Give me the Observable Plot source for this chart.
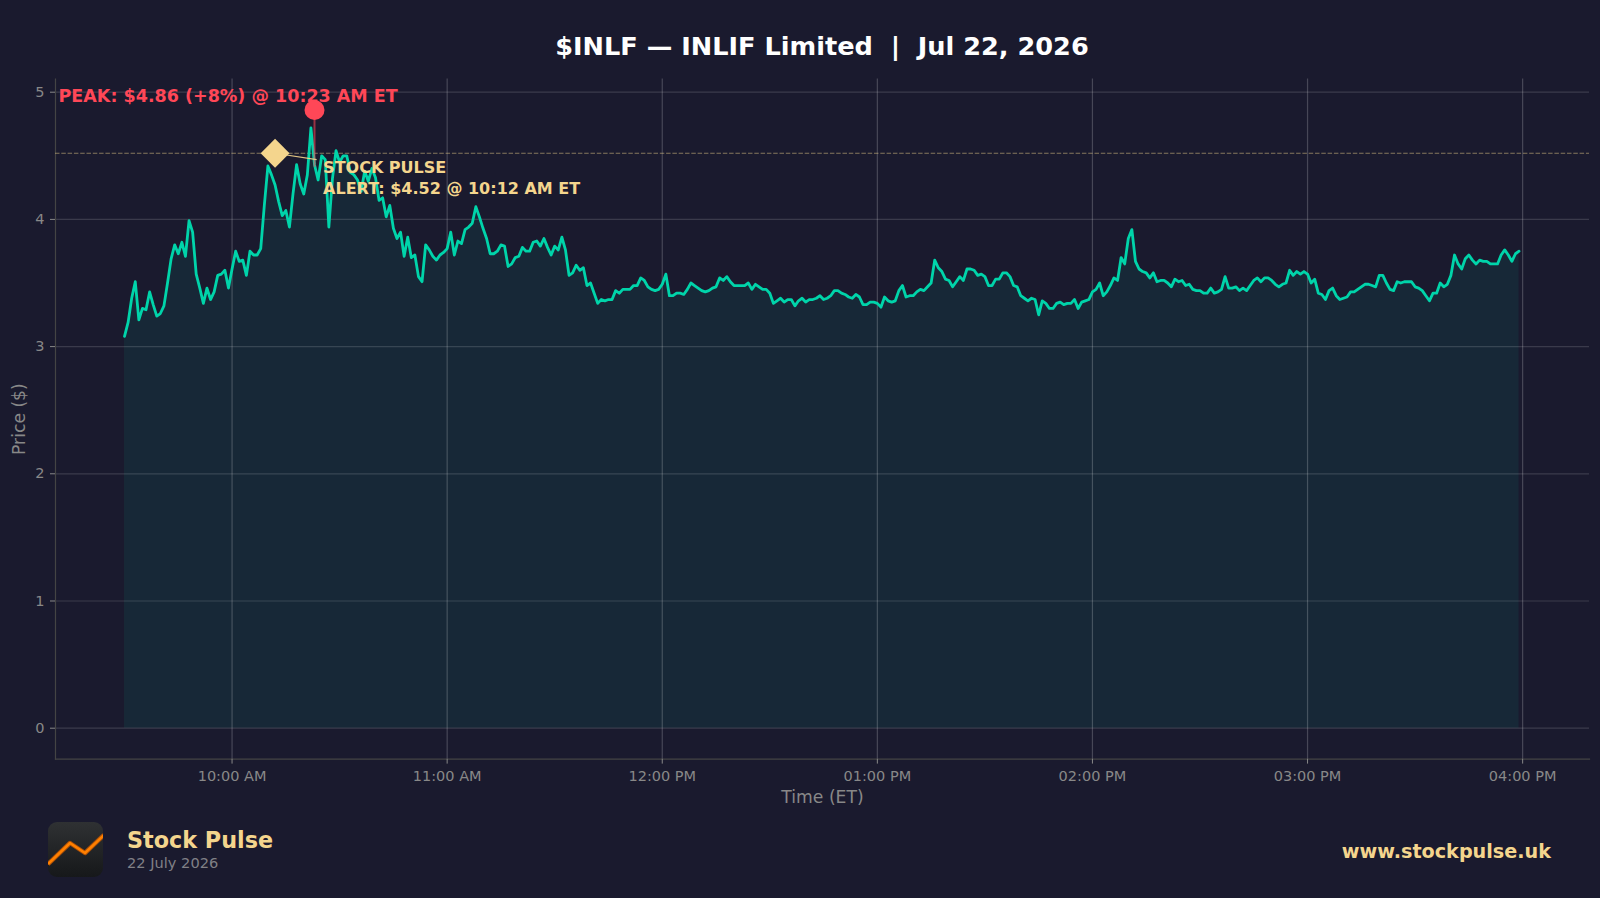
<!DOCTYPE html>
<html>
<head>
<meta charset="utf-8">
<script src="https://cdn.jsdelivr.net/npm/d3@7"></script>
<script src="https://cdn.jsdelivr.net/npm/@observablehq/plot@0.6"></script>
<style>
html,body{margin:0;padding:0;background:#1a1a2e;width:1600px;height:898px;overflow:hidden;font-family:"DejaVu Sans",sans-serif}
#page{position:relative;width:1600px;height:898px}
#title{height:60px;position:relative}
#title span{position:absolute;left:0;width:1644px;text-align:center;top:31px;font-size:25.6px;font-weight:700;color:#fff;line-height:30px;white-space:pre}
#chart{height:749px}
#chart svg{display:block}
#footer{position:relative;height:89px}
#logo{position:absolute;left:48px;top:13px}
#brand{position:absolute;left:127px;top:18px;font-size:22.3px;font-weight:700;color:#f4d58d;line-height:26px}
#date{position:absolute;left:127px;top:45px;font-size:14.6px;color:#808086;line-height:18px}
#url{position:absolute;right:49px;top:31px;font-size:19.2px;font-weight:700;color:#f4d58d;line-height:24px}
</style>
</head>
<body>
<div id="page">
  <div id="title"><span>$INLF — INLIF Limited  |  Jul 22, 2026</span></div>
  <div id="chart"></div>
  <div id="footer">
    <svg id="logo" width="55" height="55" viewBox="0 0 55 55">
      <defs><linearGradient id="lg" x1="0" y1="0" x2="0" y2="1"><stop offset="0" stop-color="#2f3133"/><stop offset="1" stop-color="#16181a"/></linearGradient>
      <clipPath id="lc"><rect width="55" height="55" rx="9"/></clipPath></defs>
      <rect width="55" height="55" rx="9" fill="url(#lg)"/>
      <path clip-path="url(#lc)" d="M0 42 L22 21 L37 31 L56 13" fill="none" stroke="#a84e08" stroke-width="4.5" stroke-linejoin="round"/>
      <path clip-path="url(#lc)" d="M0 42 L22 21 L37 31 L56 13" fill="none" stroke="#ff8000" stroke-width="2.6" stroke-linejoin="round"/>
    </svg>
    <div id="brand">Stock Pulse</div>
    <div id="date">22 July 2026</div>
    <div id="url">www.stockpulse.uk</div>
  </div>
</div>
<script>
const sessionStart = Date.UTC(2026, 6, 22, 9, 30);
const minute = 60000;

const prices = [
3.08,3.19,3.38,3.51,3.21,3.30,3.29,3.43,3.33,3.24,3.26,3.32,3.50,3.69,3.80,3.73,3.82,3.71,3.99,3.90,
3.57,3.46,3.34,3.46,3.37,3.43,3.56,3.57,3.60,3.46,3.61,3.75,3.67,3.68,3.56,3.75,3.72,3.72,3.77,4.11,
4.42,4.35,4.27,4.14,4.03,4.07,3.94,4.20,4.43,4.28,4.20,4.35,4.72,4.43,4.31,4.50,4.47,3.94,4.32,4.54,
4.45,4.50,4.50,4.37,4.35,4.31,4.22,4.38,4.30,4.40,4.33,4.15,4.17,4.02,4.11,3.93,3.85,3.90,3.71,3.86,
3.70,3.72,3.55,3.51,3.80,3.76,3.71,3.68,3.72,3.74,3.77,3.90,3.72,3.83,3.81,3.92,3.94,3.97,4.10,4.02,
3.93,3.85,3.73,3.73,3.75,3.80,3.79,3.63,3.65,3.70,3.71,3.78,3.75,3.75,3.82,3.83,3.79,3.85,3.78,3.72,
3.79,3.76,3.86,3.76,3.56,3.58,3.64,3.60,3.62,3.48,3.50,3.42,3.34,3.37,3.36,3.37,3.37,3.44,3.42,3.45,
3.45,3.45,3.48,3.48,3.54,3.52,3.47,3.45,3.44,3.45,3.49,3.57,3.40,3.40,3.42,3.42,3.41,3.45,3.50,3.48,
3.46,3.44,3.43,3.44,3.46,3.47,3.54,3.52,3.55,3.51,3.48,3.48,3.48,3.48,3.50,3.45,3.49,3.47,3.45,3.45,
3.42,3.34,3.36,3.38,3.35,3.37,3.37,3.32,3.36,3.38,3.35,3.37,3.37,3.38,3.40,3.37,3.38,3.40,3.44,3.44,
3.42,3.41,3.39,3.38,3.41,3.39,3.33,3.33,3.35,3.35,3.34,3.31,3.39,3.36,3.35,3.36,3.44,3.48,3.39,3.40,
3.40,3.43,3.45,3.44,3.47,3.50,3.68,3.62,3.59,3.53,3.52,3.47,3.51,3.55,3.52,3.61,3.61,3.60,3.56,3.57,
3.55,3.48,3.48,3.53,3.53,3.58,3.58,3.55,3.48,3.47,3.40,3.38,3.36,3.38,3.37,3.25,3.36,3.34,3.30,3.30,
3.34,3.35,3.33,3.34,3.34,3.37,3.30,3.35,3.36,3.37,3.43,3.45,3.50,3.40,3.43,3.48,3.54,3.52,3.70,3.65,
3.85,3.92,3.67,3.61,3.59,3.58,3.54,3.58,3.51,3.52,3.52,3.50,3.47,3.53,3.51,3.52,3.48,3.49,3.45,3.44,
3.44,3.42,3.42,3.46,3.42,3.43,3.45,3.55,3.46,3.46,3.47,3.44,3.46,3.44,3.48,3.52,3.54,3.51,3.54,3.54,
3.52,3.49,3.47,3.49,3.50,3.60,3.56,3.59,3.57,3.59,3.57,3.50,3.53,3.42,3.41,3.37,3.44,3.46,3.40,3.37,
3.38,3.39,3.43,3.43,3.45,3.47,3.49,3.49,3.48,3.47,3.56,3.56,3.50,3.45,3.44,3.51,3.50,3.51,3.51,3.51,
3.47,3.46,3.44,3.40,3.36,3.42,3.42,3.50,3.47,3.49,3.56,3.72,3.65,3.61,3.69,3.72,3.68,3.65,3.68,3.67,
3.67,3.65,3.65,3.65,3.72,3.76,3.72,3.67,3.73,3.75
];

const yTicks = [0, 1, 2, 3, 4, 5];
const xTickHours = [10, 11, 12, 13, 14, 15, 16];
const xTicks = xTickHours.map(h => new Date(Date.UTC(2026, 6, 22, h)));
const at = m => new Date(sessionStart + m * minute);
const xDomain = [at(-19.25), at(408.65)];
const yDomain = [-0.243, 5.103];

const series = prices.map((price, i) => ({time: at(i), price}));

const peak = {time: at(53), price: 4.86, stemEnd: 4.41};
const alert = {time: at(42), price: 4.52, linkTime: at(53.6), linkPrice: 4.47};
const peakLabel = {time: at(-18.4), price: 4.965, text: "PEAK: $4.86 (+8%) @ 10:23 AM ET"};
const alertLabel = {time: at(55.4), price: 4.335, text: "STOCK PULSE\nALERT: $4.52 @ 10:12 AM ET"};

const gold = "#f4d58d", red = "#ff4757", teal = "#00d4aa", gridC = "#ffffff", tickC = "#888888";

const fmt = d3.utcFormat("%I:%M %p");

const chart = Plot.plot({
  width: 1600, height: 749,
  marginLeft: 55, marginRight: 11, marginTop: 18.6, marginBottom: 50.4,
  style: {background: "transparent", color: tickC, fontFamily: '"DejaVu Sans", sans-serif', fontSize: "14.5px"},
  x: {type: "utc", domain: xDomain},
  y: {domain: yDomain},
  marks: [
    Plot.areaY(series, {x: "time", y1: 0, y2: "price", fill: teal, fillOpacity: 0.08}),
    Plot.gridX(xTicks, {stroke: gridC, strokeOpacity: 0.2, strokeWidth: 1.2}),
    Plot.gridY(yTicks, {stroke: gridC, strokeOpacity: 0.14, strokeWidth: 1.2}),
    Plot.frame({anchor: "left", stroke: "#444444", strokeWidth: 1.2}),
    Plot.frame({anchor: "bottom", stroke: "#444444", strokeWidth: 1.2}),
    Plot.axisX({ticks: xTicks, tickFormat: fmt, label: null, tickSize: 5, tickPadding: 6.5, stroke: tickC, fill: tickC}),
    Plot.axisY({ticks: yTicks, tickFormat: d => d, label: null, tickSize: 5, tickPadding: 6, stroke: tickC, fill: tickC}),
    Plot.text(["Time (ET)"], {frameAnchor: "bottom", dy: 44, fontSize: 17.2, fill: tickC}),
    Plot.text(["Price ($)"], {frameAnchor: "left", textAnchor: "middle", rotate: -90, dx: -36, fontSize: 17.2, fill: tickC}),
    Plot.ruleY([alert.price], {stroke: gold, strokeOpacity: 0.5, strokeWidth: 1.2, strokeDasharray: "4.5,1.8"}),
    Plot.line(series, {x: "time", y: "price", stroke: teal, strokeWidth: 2.8, strokeLinejoin: "round"}),
    Plot.ruleX([peak], {x: "time", y1: "price", y2: "stemEnd", stroke: red, strokeOpacity: 0.55, strokeWidth: 2}),
    Plot.link([alert], {x1: "time", y1: "price", x2: "linkTime", y2: "linkPrice", stroke: gold, strokeWidth: 1.2, strokeOpacity: 0.9}),
    Plot.dot([peak], {x: "time", y: "price", r: 10, fill: red, stroke: "none"}),
    Plot.dot([alert], {x: "time", y: "price", r: 13, symbol: "diamond2", fill: gold, stroke: "none"}),
    Plot.text([peakLabel], {x: "time", y: "price", text: "text", textAnchor: "start", fill: red, fontWeight: 700, fontSize: 17.5}),
    Plot.text([alertLabel], {x: "time", y: "price", text: "text", textAnchor: "start", fill: gold, fontWeight: 700, fontSize: 16, lineHeight: 1.28})
  ]
});
document.getElementById("chart").appendChild(chart);
</script>
</body>
</html>
